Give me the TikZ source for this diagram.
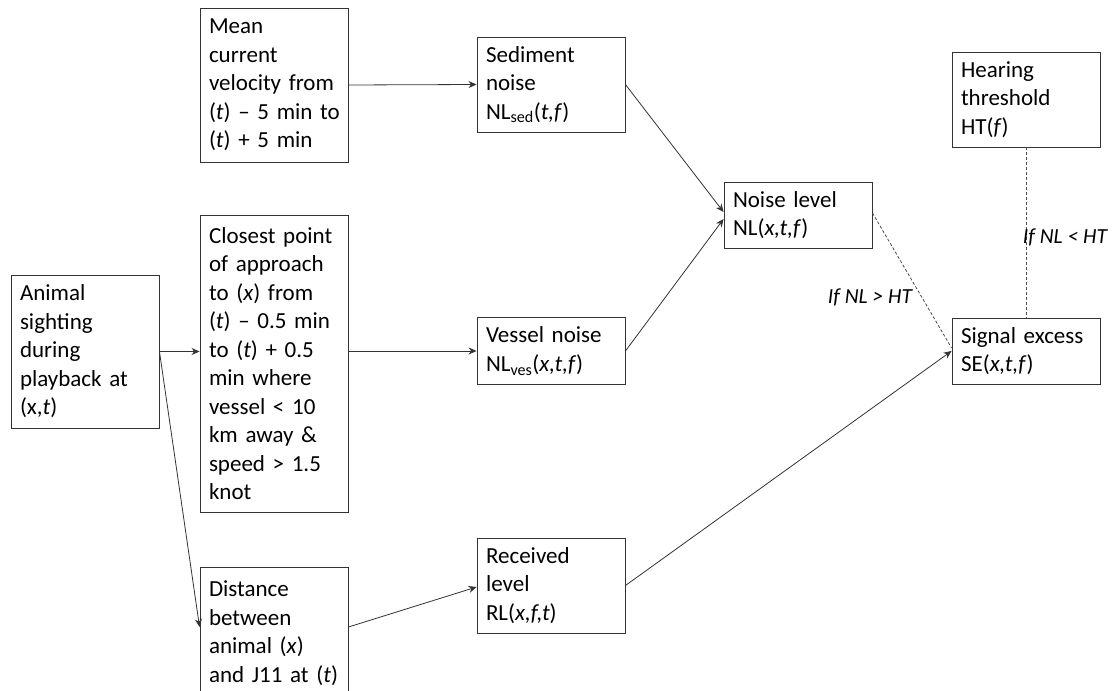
\documentclass[tikz,border=0pt]{standalone}
\usepackage{fontspec}
\setmainfont{Carlito}
\usetikzlibrary{arrows.meta,calc}
\begin{document}
\begin{tikzpicture}[x=1pt,y=-1pt,
  box/.style={draw=black!80,line width=0.9pt,text width=130pt,inner sep=9pt,align=left,
    minimum width=148pt,font=\fontsize{23}{28.5}\selectfont,text=black},
  arr/.style={draw=black!80,line width=0.8pt,-{Stealth[length=8pt,width=7pt]}},
  dashline/.style={draw=black!70,line width=0.8pt,dash pattern=on 3pt off 2pt},
  lbl/.style={font=\fontsize{21.5}{25}\selectfont\itshape,text=black,inner sep=0pt}]
\useasboundingbox (0,0) rectangle (1115,690);
\fill[white] (0,0) rectangle (1115,690);

\node[box,minimum height=154pt] (mean) at (274,85) {Mean\\current\\velocity~from\\\mbox{(\textit{t})~–~5~min~to}\\(\textit{t})~+~5~min};
\node[box,minimum height=297pt] (close) at (274,363.5) {Closest~point\\of~approach\\to~(\textit{x})~from\\\mbox{(\textit{t})~–~0.5~min}\\to~(\textit{t})~+~0.5\\min~where\\vessel~{<}~10\\km~away~\&\\speed~{>}~1.5\\knot};
\node[box,minimum height=153pt] (animal) at (85,351.5) {Animal\\sighting\\during\\playback~at\\(x,\textit{t})};
\node[box,minimum height=132pt] (dist) at (274,633) {Distance\\between\\animal~(\textit{x})\\and~J11~at~(\textit{t})};
\node[box,minimum height=95pt] (sed) at (551,84.5) {Sediment\\noise\\NL\textsubscript{sed}(\textit{t,f})};
\node[box,minimum height=66pt] (ves) at (551,351) {Vessel~noise\\NL\textsubscript{ves}(\textit{x,t,f})};
\node[box,minimum height=95pt] (rl) at (551,585.5) {Received\\level\\RL(\textit{x,f,t})};
\node[box,minimum height=66pt] (nl) at (798,215) {Noise~level\\NL(\textit{x,t,f})};
\node[box,minimum height=95pt] (ht) at (1026,99.5) {Hearing\\threshold\\HT(\textit{f})};
\node[box,minimum height=66pt] (se) at (1026,351) {Signal~excess\\SE(\textit{x,t,f})};

\draw[arr] (mean.east) -- (sed.west);
\draw[arr] (animal.east) -- (animal.east -| close.west);
\draw[arr] (animal.east) -- ([yshift=6pt]dist.west);
\draw[arr] (ves.west -| close.east) -- (ves.west);
\draw[arr] ([yshift=6pt]dist.east) -- ([yshift=-1.5pt]rl.west);
\draw[arr] (sed.east) -- ([yshift=3pt]nl.west);
\draw[arr] (ves.east) -- ([yshift=-4pt]nl.west);
\draw[arr] (rl.east) -- (se.west);
\draw[dashline] ([yshift=2pt]nl.east) -- ([yshift=3pt]se.west);
\draw[dashline] (ht.south) -- (se.north);

\node[lbl] (l1) at (870,297) {If NL {>} HT};
\node[lbl] (l2) at (1065,237) {If NL {<} HT};
\end{tikzpicture}
\end{document}
